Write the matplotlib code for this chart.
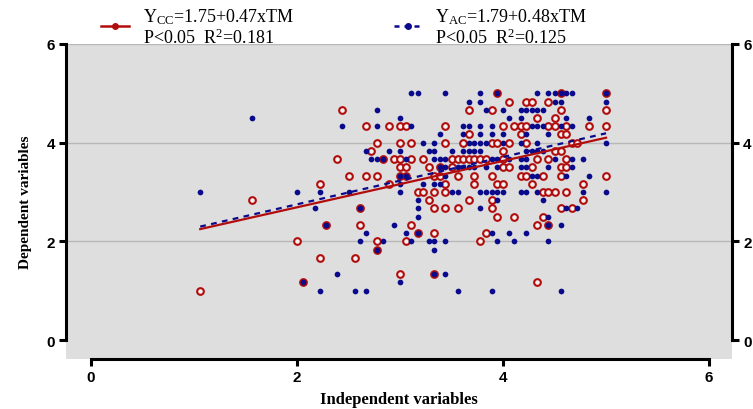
import numpy as np
import matplotlib
matplotlib.use("Agg")
import matplotlib.pyplot as plt
from matplotlib.lines import Line2D

plt.rcParams['font.family'] = ['Liberation Serif', 'DejaVu Serif']
plt.rcParams['mathtext.fontset'] = 'custom'
plt.rcParams['mathtext.rm'] = 'Liberation Serif'
plt.rcParams['mathtext.it'] = 'Liberation Serif:italic'
plt.rcParams['mathtext.bf'] = 'Liberation Serif:bold'

# ---------------- data ----------------
cc_x = [2.44, 2.67, 2.89, 2.78, 2.72, 2.39, 2.83, 2.50, 2.67, 2.78, 2.22, 2.89, 1.56, 2.61, 2.28, 2.61,
        2.00, 2.78, 2.78, 2.22, 2.56, 2.06, 1.06,
        3.00, 3.06, 3.44, 3.00, 3.11, 3.44, 2.94, 3.00, 3.11, 3.22, 3.50, 3.56, 3.00, 3.06, 3.28, 3.39,
        3.50, 3.00, 3.06, 3.33, 3.39, 3.56, 3.44, 3.17, 3.22, 3.33, 3.44, 3.28, 3.33, 3.44, 3.56, 3.11,
        4.33, 4.44, 3.17, 3.33, 3.83, 3.06, 3.78, 3.00, 3.33, 4.33, 3.67, 3.89, 4.78, 3.89, 4.56, 4.67,
        3.94, 4.11, 4.39,
        3.94, 4.06, 4.22, 4.28, 3.67, 3.89, 4.33, 4.00, 4.11, 4.17, 4.22, 3.67, 4.17, 3.61, 3.89, 3.94,
        4.06, 4.22, 4.00, 3.61, 3.67, 3.72, 3.78, 3.83, 4.00, 4.00, 4.06, 4.28, 3.72, 3.89, 4.17, 4.22,
        3.72, 3.94, 4.00, 4.28,
        4.56, 5.00, 4.44, 4.56, 5.00, 4.50, 4.44, 4.50, 4.61, 4.83, 5.00, 4.56, 4.61, 4.67, 4.72, 4.50,
        4.56, 4.33, 4.44, 4.61, 4.56, 4.61, 4.39, 4.56, 5.00, 4.78, 4.39, 4.44, 4.50, 4.61]
cc_y = [4.67, 4.33, 4.33, 4.00, 3.83, 3.67, 3.67, 3.33, 3.33, 3.33, 3.17, 3.17, 2.83, 2.67, 2.33, 2.33,
        2.00, 2.00, 1.83, 1.67, 1.67, 1.17, 1.00,
        4.33, 4.33, 4.33, 4.00, 4.00, 4.00, 3.67, 3.67, 3.67, 3.67, 3.67, 3.67, 3.50, 3.50, 3.50, 3.50,
        3.50, 3.33, 3.33, 3.33, 3.33, 3.33, 3.17, 3.00, 3.00, 3.00, 3.00, 2.83, 2.67, 2.67, 2.67, 2.33,
        2.33, 2.33, 2.17, 2.17, 2.17, 2.00, 2.00, 1.33, 1.33, 1.17, 2.83, 2.83, 2.83, 2.67, 2.67, 2.67,
        2.50, 2.50, 2.50,
        5.00, 4.83, 4.83, 4.83, 4.67, 4.67, 4.50, 4.33, 4.33, 4.33, 4.33, 4.17, 4.17, 4.00, 4.00, 4.00,
        4.00, 4.00, 3.83, 3.67, 3.67, 3.67, 3.67, 3.67, 3.67, 3.50, 3.50, 3.50, 3.33, 3.33, 3.33, 3.33,
        3.17, 3.17, 3.17, 3.17,
        5.00, 5.00, 4.83, 4.67, 4.67, 4.50, 4.33, 4.33, 4.33, 4.33, 4.33, 4.17, 4.17, 4.00, 4.00, 3.83,
        3.83, 3.67, 3.67, 3.67, 3.50, 3.50, 3.33, 3.33, 3.33, 3.17, 3.00, 3.00, 3.00, 3.00]

ac_x = [2.78, 1.56, 2.44, 2.78, 2.67, 2.89, 2.72, 2.78, 2.83, 1.06, 2.00, 2.22, 2.50, 2.17, 2.61, 2.28,
        2.67, 2.61, 2.83, 2.78, 2.39, 2.06, 2.22, 2.56, 2.67,
        3.11, 3.17, 3.44, 3.00, 3.11, 3.39, 3.22, 3.33, 3.00, 3.28, 3.33, 3.50, 3.06, 3.33, 3.39, 3.44,
        3.39, 3.44, 3.56, 3.00, 3.06, 3.44, 3.00, 3.22, 3.33, 3.39, 3.00, 3.50, 3.56, 3.17, 3.17, 3.17,
        2.94,
        4.44, 4.56, 3.06, 3.17, 3.89, 4.06, 4.22, 3.11, 3.28, 3.33, 3.44, 3.94, 4.11, 4.44, 3.33, 3.33,
        3.44, 3.00, 3.56, 3.89, 4.56, 3.94, 4.39, 3.78, 4.61, 4.72, 4.44,
        3.78, 3.94, 3.67, 3.78, 3.83, 4.00, 4.17, 4.22, 4.28, 4.33, 4.06, 4.17, 3.61, 3.67, 3.78, 3.89,
        4.28, 4.33, 3.61, 3.78, 3.89, 4.00, 4.22, 3.67, 3.72, 3.78, 3.83, 4.00, 4.17, 4.33, 3.61, 3.67,
        3.72, 3.78, 4.22, 4.28, 4.33, 3.89, 3.94, 4.06, 4.17, 4.22, 3.61, 3.67, 3.72, 3.83, 3.94, 4.17,
        4.22, 4.28, 4.33, 3.78, 3.83, 3.89, 3.94, 4.00, 4.17, 4.22, 4.33,
        4.33, 4.44, 4.50, 4.56, 4.61, 4.67, 5.00, 4.50, 4.56, 5.00, 4.39, 4.61, 4.83, 4.39, 4.56, 4.67,
        4.44, 5.00, 4.39, 4.50, 4.67, 4.78, 4.44, 4.67, 4.61, 4.83, 4.78, 5.00]
ac_y = [4.67, 4.50, 4.33, 4.33, 3.83, 3.83, 3.67, 3.67, 3.67, 3.00, 3.00, 3.00, 3.00, 2.67, 2.67, 2.33,
        2.17, 2.00, 2.00, 1.83, 1.33, 1.17, 1.00, 1.00, 1.00,
        5.00, 5.00, 5.00, 4.50, 4.33, 4.17, 4.00, 4.00, 3.83, 3.83, 3.83, 3.83, 3.67, 3.67, 3.67, 3.67,
        3.50, 3.50, 3.50, 3.33, 3.33, 3.33, 3.17, 3.17, 3.17, 3.17, 3.00, 3.00, 3.00, 2.83, 2.67, 2.50,
        2.33,
        2.33, 2.33, 2.17, 2.17, 2.17, 2.17, 2.17, 2.00, 2.00, 2.00, 2.00, 2.00, 2.00, 2.00, 1.83, 1.33,
        1.33, 1.17, 1.00, 1.00, 1.00, 2.83, 2.83, 2.67, 2.67, 2.67, 2.50,
        5.00, 5.00, 4.83, 4.83, 4.67, 4.67, 4.67, 4.67, 4.67, 4.67, 4.50, 4.50, 4.33, 4.33, 4.33, 4.33,
        4.33, 4.33, 4.17, 4.17, 4.17, 4.17, 4.17, 4.00, 4.00, 4.00, 4.00, 4.00, 4.00, 4.00, 3.83, 3.83,
        3.83, 3.83, 3.83, 3.83, 3.83, 3.67, 3.67, 3.67, 3.67, 3.67, 3.50, 3.50, 3.50, 3.50, 3.50, 3.50,
        3.50, 3.33, 3.33, 3.00, 3.00, 3.00, 3.00, 3.00, 3.00, 3.00, 3.00,
        5.00, 5.00, 5.00, 5.00, 5.00, 5.00, 5.00, 4.83, 4.83, 4.83, 4.67, 4.50, 4.50, 4.33, 4.33, 4.33,
        4.17, 4.00, 3.83, 3.67, 3.67, 3.67, 3.50, 3.50, 3.33, 3.33, 3.00, 3.00]

cc_intercept, cc_slope = 1.75, 0.47
ac_intercept, ac_slope = 1.79, 0.48
cc_label = ["Y$_{\\mathrm{CC}}$=1.75+0.47xTM", "P<0.05  R$^{2}$=0.181"]
ac_label = ["Y$_{\\mathrm{AC}}$=1.79+0.48xTM", "P<0.05  R$^{2}$=0.125"]
ticks = [0, 2, 4, 6]

RED = '#b10d0d'
BLUE = '#0a0a8c'

# ---------------- figure ----------------
fig = plt.figure(figsize=(7.53, 4.10), dpi=100)
ax = fig.add_axes([66 / 753, 50 / 410, 666 / 753, 315 / 410])
ax.set_facecolor('#dedede')
ax.set_xlim(-0.243, 6.223)
ax.set_ylim(-0.385, 6.0)

ax.scatter(cc_x, cc_y, s=23, facecolors='#f2f2f2', edgecolors=RED, linewidths=1.5, zorder=3)
ax.scatter(ac_x, ac_y, s=17, color=BLUE, linewidths=0, zorder=4)

xl = np.array([min(cc_x), max(cc_x)])
ax.plot(xl, cc_intercept + cc_slope * xl, color=RED, lw=1.6, zorder=5)
xl2 = np.array([min(ac_x), max(ac_x)])
ax.plot(xl2, ac_intercept + ac_slope * xl2, color=BLUE, lw=1.6, ls=(0, (2.6, 2.4)), zorder=5)

# axes styling
for s in ['left', 'right', 'bottom']:
    ax.spines[s].set_linewidth(2.2)
    ax.spines[s].set_bounds(0, 6)
ax.spines['top'].set_visible(False)
ax.set_xticks(ticks)
ax.set_yticks(ticks)
ax.tick_params(axis='both', length=5, width=2.2, labelsize=11, pad=3)
ax.tick_params(axis='y', right=True, labelright=True)
for lab in ax.get_xticklabels() + ax.get_yticklabels():
    lab.set_fontfamily('Liberation Sans')
    lab.set_fontweight('bold')
ax.yaxis.grid(True, color='#b8b8b8', lw=1)
ax.get_ygridlines()[0].set_visible(False)
ax.set_axisbelow(True)

ax.set_xlabel('Independent variables', fontsize=12, fontweight='bold', labelpad=5)
ax.set_ylabel('Dependent variables', fontsize=11, fontweight='bold', labelpad=10)

# legend (manual, above plot)
def handle(x0, x1, y, color, ls):
    yy = 1 - y / 410
    fig.add_artist(Line2D([x0 / 753, (x0 + x1) / 2 / 753, x1 / 753], [yy, yy, yy],
                          transform=fig.transFigure, color=color, lw=1.8, ls=ls,
                          marker='o', markersize=4, markevery=[1]))

handle(101, 129, 27, RED, '-')
handle(394, 422, 27, BLUE, (0, (2, 2)))
for xpx, lab in [(143, cc_label), (435, ac_label)]:
    fig.text(xpx / 753, 1 - 17 / 410, lab[0], fontsize=13, va='center', ha='left')
    fig.text(xpx / 753, 1 - 38 / 410, lab[1], fontsize=13, va='center', ha='left')

fig.savefig('out.png', dpi=100)
